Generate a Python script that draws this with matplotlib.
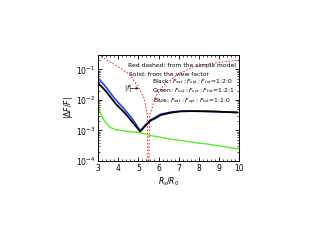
import matplotlib
matplotlib.use("Agg")
import matplotlib.pyplot as plt
from matplotlib.ticker import MultipleLocator, LogLocator, NullFormatter

# simple model (red dashed)
x_red = [3.0, 3.35, 3.85, 4.2, 4.6, 5.0, 5.3, 5.45, 5.5, 5.55, 5.7, 5.85, 6.25, 6.9, 7.7, 8.5, 9.3, 10.0]
y_red = [0.3, 0.22, 0.14, 0.1, 0.065, 0.026, 0.011, 0.003, 1e-6, 0.003, 0.006, 0.013, 0.03, 0.065, 0.12, 0.15, 0.18, 0.2]

# view factor curves
x_vf = [3.0, 3.4, 3.85, 4.1, 4.35, 4.7, 5.09, 5.34, 5.6, 5.84, 6.1, 6.6, 7.08, 7.6, 8.2, 8.8, 9.4, 9.9]
y_blue = [0.052, 0.026, 0.0105, 0.007, 0.0046, 0.0024, 0.00098, 0.0015, 0.0022, 0.0027, 0.0034, 0.004, 0.0043, 0.0043, 0.0042, 0.0041, 0.0040, 0.0039]
y_black = [0.036, 0.019, 0.0078, 0.0053, 0.0036, 0.0019, 0.00093, 0.0014, 0.0021, 0.0025, 0.0032, 0.0038, 0.0042, 0.0043, 0.0043, 0.0042, 0.0040, 0.0039]

x_green = [3.0, 3.2, 3.35, 3.6, 3.9, 4.35, 4.7, 5.0, 5.3, 5.6, 6.1, 6.6, 7.2, 7.8, 8.4, 9.0, 9.5, 9.9, 10.0]
y_green = [0.0058, 0.0028, 0.0019, 0.00126, 0.00105, 0.00095, 0.0009, 0.00085, 0.00078, 0.00068, 0.0006, 0.00052, 0.00046, 0.0004, 0.00036, 0.00031, 0.00028, 0.00025, 0.00025]

fig = plt.figure(figsize=(3.27, 2.45), dpi=100)
ax = fig.add_axes([0.30, 0.343, 0.431, 0.433])

ax.plot(x_red, y_red, color="red", lw=0.6, ls=(0, (2, 2)))
ax.plot(x_green, y_green, color="#55ee22", lw=1.0)
ax.plot(x_vf, y_blue, color="#2244ee", lw=1.2)
ax.plot(x_vf, y_black, color="black", lw=1.3)

ax.set_yscale("log")
ax.set_xlim(3, 10)
ax.set_ylim(1e-4, 0.3)
ax.xaxis.set_major_locator(MultipleLocator(1))
ax.xaxis.set_minor_locator(MultipleLocator(0.2))
ax.yaxis.set_major_locator(LogLocator(base=10, numticks=10))
ax.yaxis.set_minor_locator(LogLocator(base=10, subs=range(2, 10), numticks=10))
ax.yaxis.set_minor_formatter(NullFormatter())
ax.tick_params(which="both", direction="in", top=True, right=True, labelsize=5.5, pad=2)
ax.tick_params(which="major", length=3, width=0.6)
ax.tick_params(which="minor", length=1.5, width=0.5)
for s in ax.spines.values():
    s.set_linewidth(0.7)

ax.set_xlabel("$R_s/R_0$", fontsize=5.5, labelpad=2)
ax.set_ylabel(r"$|\Delta F/F|$", fontsize=5.5, labelpad=1)

fs = 4.3
ax.text(4.5, 0.13, "Red dashed: from the simple model", fontsize=fs, va="center")
ax.text(4.55, 0.07, "Solid: from the view factor", fontsize=fs, va="center")
ax.text(5.7, 0.035, r"Black: $F_{sat}:F_{spt}:F_{tot}$=1:2:0", fontsize=fs, va="center")
ax.text(5.7, 0.018, r"Green: $F_{vul}:F_{spt}:F_{tot}$=1:2:1", fontsize=fs, va="center")
ax.text(5.75, 0.0088, r"Blue: $F_{sat}:F_{spt}:F_{tot}$=1:1:0", fontsize=fs, va="center")
ax.text(4.3, 0.024, "$|f|$", fontsize=fs + 0.5, va="center")
ax.annotate("", xy=(5.02, 0.024), xytext=(4.6, 0.024),
            arrowprops=dict(arrowstyle="->", lw=0.5, color="black", mutation_scale=4,
                            shrinkA=0, shrinkB=0))

fig.savefig("out.png", dpi=100)
